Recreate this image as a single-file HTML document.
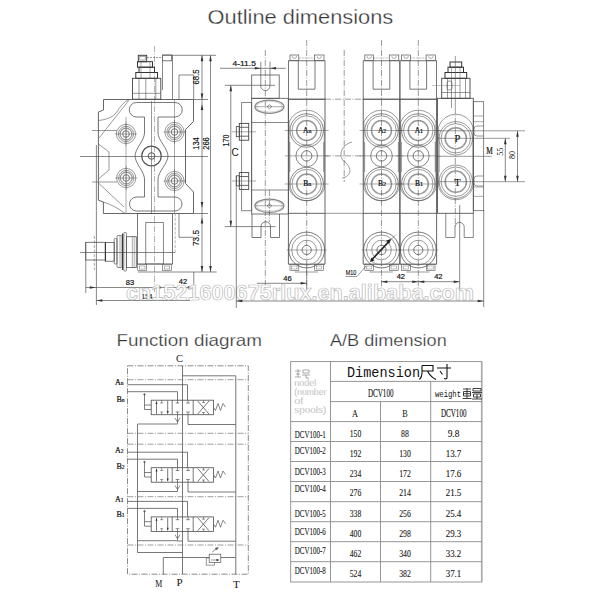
<!DOCTYPE html>
<html><head><meta charset="utf-8"><style>
html,body{margin:0;padding:0;background:#fff;width:600px;height:600px;overflow:hidden}
svg{display:block}
</style></head><body>
<svg width="600" height="600" viewBox="0 0 600 600">
<rect width="600" height="600" fill="#fff"/>
<text x="207.5" y="24.2" font-family="Liberation Sans" font-size="20.5" text-anchor="start" fill="#333" textLength="185.8" lengthAdjust="spacingAndGlyphs" stroke="#fff" stroke-width="0.3">Outline dimensions</text>
<text x="116.5" y="345.5" font-family="Liberation Sans" font-size="16.5" text-anchor="start" fill="#333" textLength="145.5" lengthAdjust="spacingAndGlyphs" stroke="#fff" stroke-width="0.25">Function diagram</text>
<text x="330" y="346" font-family="Liberation Sans" font-size="16.5" text-anchor="start" fill="#333" textLength="116.7" lengthAdjust="spacingAndGlyphs" stroke="#fff" stroke-width="0.25">A/B dimension</text>
<line x1="154.5" y1="46" x2="154.5" y2="292" stroke="#aaa" stroke-width="0.9" stroke-dasharray="6 1.5 1 1.5"/>
<line x1="80" y1="156.5" x2="208" y2="156.5" stroke="#555" stroke-width="0.7"/>
<line x1="80" y1="252.5" x2="175" y2="252.5" stroke="#555" stroke-width="0.7"/>
<rect x="138.3" y="55.3" width="8.4" height="6.4" stroke="#333" stroke-width="0.9" fill="none" rx="0"/>
<rect x="139.8" y="56.5" width="5.4" height="3.5" stroke="#555" stroke-width="0.5" fill="none" rx="0"/>
<rect x="137.5" y="61.7" width="15" height="5.5" stroke="#333" stroke-width="1.0" fill="none" rx="0"/>
<rect x="139" y="67.2" width="15.5" height="5.3" stroke="#333" stroke-width="1.0" fill="none" rx="0"/>
<rect x="135.8" y="72.5" width="21.7" height="5.8" stroke="#333" stroke-width="1.0" fill="none" rx="0"/>
<rect x="132.5" y="78.3" width="28.3" height="20.9" stroke="#444" stroke-width="0.9" fill="none" rx="0"/>
<line x1="141" y1="61.7" x2="141" y2="78.3" stroke="#555" stroke-width="0.5"/>
<line x1="150" y1="61.7" x2="150" y2="78.3" stroke="#555" stroke-width="0.5"/>
<line x1="139" y1="78.3" x2="139" y2="99.2" stroke="#555" stroke-width="0.6"/>
<line x1="145.8" y1="78.3" x2="145.8" y2="99.2" stroke="#555" stroke-width="0.6"/>
<line x1="155.8" y1="78.3" x2="155.8" y2="99.2" stroke="#555" stroke-width="0.6"/>
<line x1="132.5" y1="93.3" x2="160.8" y2="93.3" stroke="#555" stroke-width="0.6"/>
<line x1="147" y1="57.5" x2="163" y2="57.5" stroke="#555" stroke-width="0.6" stroke-dasharray="2 1"/>
<rect x="162.5" y="55" width="9.2" height="5.8" stroke="#555" stroke-width="0.8" fill="none" rx="0"/>
<line x1="162.5" y1="60.8" x2="162.5" y2="90" stroke="#555" stroke-width="0.7"/>
<line x1="172.5" y1="55" x2="172.5" y2="99.2" stroke="#555" stroke-width="0.7"/>
<path d="M103.5,99.5 L193.5,99.5 L193.5,121.5 L185.5,129.5 L185.5,183.5 L193.5,192 L193.5,213.5 L103.4,213.5 L103.4,202 L98.4,200.2 L98.4,112 L103.5,110 Z" stroke="#555" stroke-width="0.9" fill="none"/>
<line x1="193.5" y1="99.5" x2="208" y2="99.5" stroke="#555" stroke-width="0.7"/>
<line x1="193.5" y1="213.5" x2="208" y2="213.5" stroke="#555" stroke-width="0.7"/>
<path d="M129.5,99.5 L99,138" stroke="#555" stroke-width="0.6" fill="none"/>
<path d="M128,100 C120,104 118,113 112,116.5 C108,119 103,120 98.5,120.5" stroke="#555" stroke-width="0.6" fill="none"/>
<path d="M98.4,144 L109,152 L109,170 L98.4,179" stroke="#555" stroke-width="0.6" fill="none"/>
<path d="M98.4,183 L124,207" stroke="#555" stroke-width="0.6" fill="none"/>
<path d="M103.4,202 C112,205 118,208 125,213.5" stroke="#555" stroke-width="0.6" fill="none"/>
<path d="M136.5,102.5 L175,102.5 A7.2,7.2 0 0 1 175,117 L158,117 L158,133 C158,140 168,149 168,156 C168,163 158,172 158,179 L158,197 L175,197 A7,7 0 0 1 175,211 L136.5,211 A7,7 0 0 1 136.5,197 L144.5,197 L144.5,179 C144.5,172 135,163 135,156 C135,149 144.5,140 144.5,133 L144.5,117 L136.5,117 A7.2,7.2 0 0 1 136.5,102.5 Z" stroke="#555" stroke-width="0.8" fill="none"/>
<line x1="151.5" y1="101" x2="151.5" y2="213" stroke="#555" stroke-width="0.6"/>
<circle cx="126" cy="134" r="9.6" stroke="#555" stroke-width="0.6" fill="none"/>
<circle cx="126" cy="134" r="7.6" stroke="#555" stroke-width="0.6" fill="none"/>
<circle cx="126" cy="134" r="5.9" stroke="#999" stroke-width="1.2" fill="none"/>
<circle cx="126" cy="134" r="3.3" stroke="#555" stroke-width="0.8" fill="none"/>
<line x1="115" y1="134" x2="137" y2="134" stroke="#555" stroke-width="0.5"/>
<line x1="126" y1="122" x2="126" y2="146" stroke="#555" stroke-width="0.5"/>
<circle cx="174.5" cy="132" r="9.6" stroke="#555" stroke-width="0.6" fill="none"/>
<circle cx="174.5" cy="132" r="7.6" stroke="#555" stroke-width="0.6" fill="none"/>
<circle cx="174.5" cy="132" r="5.9" stroke="#999" stroke-width="1.2" fill="none"/>
<circle cx="174.5" cy="132" r="3.3" stroke="#555" stroke-width="0.8" fill="none"/>
<line x1="163.5" y1="132" x2="185.5" y2="132" stroke="#555" stroke-width="0.5"/>
<line x1="174.5" y1="120" x2="174.5" y2="144" stroke="#555" stroke-width="0.5"/>
<circle cx="126.2" cy="178" r="9.6" stroke="#555" stroke-width="0.6" fill="none"/>
<circle cx="126.2" cy="178" r="7.6" stroke="#555" stroke-width="0.6" fill="none"/>
<circle cx="126.2" cy="178" r="5.9" stroke="#999" stroke-width="1.2" fill="none"/>
<circle cx="126.2" cy="178" r="3.3" stroke="#555" stroke-width="0.8" fill="none"/>
<line x1="115.2" y1="178" x2="137.2" y2="178" stroke="#555" stroke-width="0.5"/>
<line x1="126.2" y1="166" x2="126.2" y2="190" stroke="#555" stroke-width="0.5"/>
<circle cx="174.5" cy="181" r="9.6" stroke="#555" stroke-width="0.6" fill="none"/>
<circle cx="174.5" cy="181" r="7.6" stroke="#555" stroke-width="0.6" fill="none"/>
<circle cx="174.5" cy="181" r="5.9" stroke="#999" stroke-width="1.2" fill="none"/>
<circle cx="174.5" cy="181" r="3.3" stroke="#555" stroke-width="0.8" fill="none"/>
<line x1="163.5" y1="181" x2="185.5" y2="181" stroke="#555" stroke-width="0.5"/>
<line x1="174.5" y1="169" x2="174.5" y2="193" stroke="#555" stroke-width="0.5"/>
<circle cx="151.5" cy="156" r="9.8" stroke="#555" stroke-width="1.3" fill="none"/>
<circle cx="151.5" cy="156" r="3.3" stroke="#555" stroke-width="1.0" fill="none"/>
<line x1="174.5" y1="99.5" x2="174.5" y2="213.5" stroke="#555" stroke-width="0.5"/>
<line x1="126" y1="117" x2="126" y2="213.5" stroke="#555" stroke-width="0.5"/>
<line x1="92" y1="130.5" x2="117" y2="130.5" stroke="#555" stroke-width="0.6"/>
<line x1="92" y1="182" x2="117" y2="182" stroke="#555" stroke-width="0.6"/>
<line x1="96.4" y1="145" x2="96.4" y2="305" stroke="#555" stroke-width="0.7"/>
<line x1="85.8" y1="242" x2="85.8" y2="293" stroke="#555" stroke-width="0.7"/>
<rect x="137.5" y="213.5" width="35" height="50.5" stroke="#555" stroke-width="0.8" fill="none" rx="0"/>
<rect x="145.8" y="222.5" width="17.5" height="41.5" stroke="#555" stroke-width="0.7" fill="none" rx="0"/>
<rect x="137.7" y="264.2" width="9" height="6.3" stroke="#555" stroke-width="0.6" fill="none" rx="0"/>
<rect x="162.5" y="264.2" width="9" height="6.3" stroke="#555" stroke-width="0.6" fill="none" rx="0"/>
<rect x="139.5" y="266" width="5.5" height="3" stroke="#555" stroke-width="0.4" fill="none" rx="0"/>
<rect x="164.3" y="266" width="5.5" height="3" stroke="#555" stroke-width="0.4" fill="none" rx="0"/>
<line x1="138" y1="272" x2="216.7" y2="272" stroke="#555" stroke-width="0.7"/>
<path d="M179,213.5 L179,237.3 L193.5,237.3" stroke="#555" stroke-width="0.7" fill="none"/>
<line x1="175.2" y1="213.5" x2="175.2" y2="253" stroke="#888" stroke-width="0.6" stroke-dasharray="3 1.5"/>
<rect x="85.7" y="242.3" width="19.7" height="17.7" stroke="#555" stroke-width="0.8" fill="none" rx="0"/>
<rect x="105.4" y="242.5" width="8.8" height="18.7" stroke="#555" stroke-width="0.8" fill="none" rx="0"/>
<line x1="105.4" y1="242.5" x2="105.4" y2="261.2" stroke="#333" stroke-width="1.2"/>
<rect x="114.2" y="238.5" width="2.8" height="25.5" stroke="#555" stroke-width="0.7" fill="none" rx="1"/>
<rect x="117" y="235.5" width="5" height="32" stroke="#555" stroke-width="0.7" fill="none" rx="1"/>
<line x1="122.6" y1="233.5" x2="122.6" y2="270" stroke="#333" stroke-width="1.1"/>
<line x1="120" y1="236" x2="120" y2="267" stroke="#555" stroke-width="0.5"/>
<rect x="123.8" y="232.5" width="2.6" height="38.5" stroke="#555" stroke-width="0.7" fill="none" rx="0.8"/>
<rect x="126.4" y="236.7" width="9.9" height="30.9" stroke="#555" stroke-width="0.8" fill="none" rx="0"/>
<line x1="132.3" y1="236.7" x2="132.3" y2="267.6" stroke="#555" stroke-width="0.5"/>
<line x1="134.2" y1="236.7" x2="134.2" y2="267.6" stroke="#555" stroke-width="0.5"/>
<line x1="94.3" y1="236" x2="94.3" y2="270" stroke="#555" stroke-width="0.5" stroke-dasharray="3 1.5"/>
<line x1="163" y1="55.3" x2="216" y2="55.3" stroke="#555" stroke-width="0.7"/>
<line x1="202" y1="55.3" x2="202" y2="272" stroke="#555" stroke-width="0.7"/>
<line x1="210.5" y1="55.3" x2="210.5" y2="272" stroke="#555" stroke-width="0.7"/>
<polygon points="202,55.3 200.7,61.3 203.3,61.3" fill="#333"/>
<polygon points="202,99.5 200.7,93.5 203.3,93.5" fill="#333"/>
<polygon points="202,104 200.7,110 203.3,110" fill="#333"/>
<polygon points="202,208 200.7,202 203.3,202" fill="#333"/>
<polygon points="202,217.5 200.7,223.5 203.3,223.5" fill="#333"/>
<polygon points="202,272 200.7,266 203.3,266" fill="#333"/>
<polygon points="210.5,55.3 209.2,61.3 211.8,61.3" fill="#333"/>
<polygon points="210.5,272 209.2,266 211.8,266" fill="#333"/>
<line x1="179" y1="75" x2="193.7" y2="75" stroke="#555" stroke-width="0.7"/>
<line x1="179" y1="75" x2="179" y2="99.5" stroke="#555" stroke-width="0.7"/>
<line x1="193.7" y1="75" x2="193.7" y2="99.5" stroke="#555" stroke-width="0.7"/>
<text transform="translate(199,77) rotate(-90)" font-family="Liberation Sans" font-size="8.5" text-anchor="middle" fill="#111" stroke="#111" stroke-width="0.15" textLength="15" lengthAdjust="spacingAndGlyphs">68.5</text>
<text transform="translate(199.3,143.5) rotate(-90)" font-family="Liberation Sans" font-size="8.5" text-anchor="middle" fill="#111" stroke="#111" stroke-width="0.15" textLength="12.5" lengthAdjust="spacingAndGlyphs">134</text>
<text transform="translate(208.6,143.5) rotate(-90)" font-family="Liberation Sans" font-size="8.5" text-anchor="middle" fill="#111" stroke="#111" stroke-width="0.15" textLength="12.5" lengthAdjust="spacingAndGlyphs">266</text>
<text transform="translate(199.3,238) rotate(-90)" font-family="Liberation Sans" font-size="8.5" text-anchor="middle" fill="#111" stroke="#111" stroke-width="0.15" textLength="16" lengthAdjust="spacingAndGlyphs">73.5</text>
<line x1="85.8" y1="287.5" x2="155" y2="287.5" stroke="#555" stroke-width="0.7"/>
<polygon points="95.8,287.5 89.8,286.2 89.8,288.8" fill="#333"/>
<polygon points="154.5,287.5 160.5,286.2 160.5,288.8" fill="#333"/>
<text x="130" y="285" font-family="Liberation Sans" font-size="7.5" text-anchor="middle" fill="#111" stroke="#111" stroke-width="0.2">83</text>
<line x1="154.5" y1="287.5" x2="193.8" y2="287.5" stroke="#555" stroke-width="0.7"/>
<polygon points="193.8,287.5 187.8,286.2 187.8,288.8" fill="#333"/>
<line x1="193.8" y1="272" x2="193.8" y2="300" stroke="#555" stroke-width="0.7"/>
<text x="183" y="284" font-family="Liberation Sans" font-size="7.5" text-anchor="middle" fill="#111" stroke="#111" stroke-width="0.2">42</text>
<line x1="96.4" y1="300.5" x2="190" y2="300.5" stroke="#555" stroke-width="0.7"/>
<polygon points="96.4,300.5 102.4,299.2 102.4,301.8" fill="#333"/>
<text x="147" y="298.5" font-family="Liberation Sans" font-size="6.5" text-anchor="middle" fill="#111" stroke="#111" stroke-width="0.15">154</text>
<line x1="220" y1="68.3" x2="285.8" y2="68.3" stroke="#555" stroke-width="0.7"/>
<polygon points="260.8,68.3 254.8,67.0 254.8,69.6" fill="#333"/>
<polygon points="270,68.3 276,67.0 276,69.6" fill="#333"/>
<text x="244.2" y="66.3" font-family="Liberation Sans" font-size="8" text-anchor="middle" fill="#111" textLength="23.3" lengthAdjust="spacingAndGlyphs" stroke="#111" stroke-width="0.2">4-11.5</text>
<line x1="225" y1="85.3" x2="275" y2="85.3" stroke="#555" stroke-width="0.7"/>
<line x1="230.8" y1="85.3" x2="230.8" y2="226.7" stroke="#555" stroke-width="0.7"/>
<polygon points="230.8,85.3 229.5,91.3 232.10000000000002,91.3" fill="#333"/>
<polygon points="230.8,226.7 229.5,220.7 232.10000000000002,220.7" fill="#333"/>
<text transform="translate(228.8,140.5) rotate(-90)" font-family="Liberation Sans" font-size="8.5" text-anchor="middle" fill="#111" stroke="#111" stroke-width="0.15" textLength="12" lengthAdjust="spacingAndGlyphs">170</text>
<text x="235" y="156" font-family="Liberation Sans" font-size="10" text-anchor="middle" fill="#111" >C</text>
<rect x="251.7" y="75" width="27.5" height="23.3" stroke="#555" stroke-width="0.8" fill="none" rx="0"/>
<path d="M260.8,61.7 L260.8,86 A4.6,4.6 0 0 0 270,86 L270,61.7" stroke="#555" stroke-width="0.7" fill="none"/>
<line x1="265.3" y1="50" x2="265.3" y2="290" stroke="#555" stroke-width="0.6" stroke-dasharray="6 1.5 1 1.5"/>
<rect x="251.7" y="98.3" width="36.6" height="115.7" stroke="#555" stroke-width="0.8" fill="none" rx="0"/>
<line x1="251.7" y1="122.5" x2="288.3" y2="122.5" stroke="#555" stroke-width="0.7"/>
<line x1="251.7" y1="190" x2="288.3" y2="190" stroke="#555" stroke-width="0.7"/>
<ellipse cx="269.4" cy="106.7" rx="14.5" ry="6.6" stroke="#888" stroke-width="1.3" fill="none"/>
<ellipse cx="269.4" cy="106.7" rx="13" ry="5.4" stroke="#aaa" stroke-width="0.5" fill="none"/>
<path d="M267,106.7 L269.4,104.7 L271.8,106.7 L269.4,108.7 Z" stroke="#555" stroke-width="0.6" fill="none"/>
<line x1="255" y1="106.7" x2="283" y2="106.7" stroke="#555" stroke-width="0.5"/>
<ellipse cx="269.4" cy="205.8" rx="14.5" ry="6.6" stroke="#888" stroke-width="1.3" fill="none"/>
<ellipse cx="269.4" cy="205.8" rx="13" ry="5.4" stroke="#aaa" stroke-width="0.5" fill="none"/>
<path d="M267,205.8 L269.4,203.8 L271.8,205.8 L269.4,207.8 Z" stroke="#555" stroke-width="0.6" fill="none"/>
<line x1="255" y1="205.8" x2="283" y2="205.8" stroke="#555" stroke-width="0.5"/>
<rect x="241.7" y="102.5" width="10" height="108.3" stroke="#555" stroke-width="0.7" fill="none" rx="0"/>
<rect x="239.3" y="123.4" width="9.4" height="16.8" stroke="#444" stroke-width="0.9" fill="none" rx="0"/>
<rect x="236.3" y="126.60000000000001" width="3" height="10.1" stroke="#444" stroke-width="0.8" fill="none" rx="0"/>
<line x1="239.3" y1="127.30000000000001" x2="248.7" y2="127.30000000000001" stroke="#444" stroke-width="0.8"/>
<line x1="239.3" y1="136.20000000000002" x2="248.7" y2="136.20000000000002" stroke="#444" stroke-width="0.8"/>
<line x1="232" y1="131.8" x2="256" y2="131.8" stroke="#555" stroke-width="0.5"/>
<rect x="239.3" y="172.6" width="9.4" height="16.8" stroke="#444" stroke-width="0.9" fill="none" rx="0"/>
<rect x="236.3" y="175.8" width="3" height="10.1" stroke="#444" stroke-width="0.8" fill="none" rx="0"/>
<line x1="239.3" y1="176.5" x2="248.7" y2="176.5" stroke="#444" stroke-width="0.8"/>
<line x1="239.3" y1="185.4" x2="248.7" y2="185.4" stroke="#444" stroke-width="0.8"/>
<line x1="232" y1="181" x2="256" y2="181" stroke="#555" stroke-width="0.5"/>
<path d="M252,214 L252,237.5 L261,237.5 L261,226.5 A4.75,4.75 0 0 1 270.5,226.5 L270.5,237.5 L279.5,237.5 L279.5,214" stroke="#555" stroke-width="0.8" fill="none"/>
<line x1="225" y1="226.6" x2="275.5" y2="226.6" stroke="#555" stroke-width="0.7"/>
<line x1="269.4" y1="190" x2="269.4" y2="222" stroke="#555" stroke-width="0.6" stroke-dasharray="6 1.5 1 1.5"/>
<rect x="288.4" y="60.8" width="36.6" height="38.4" stroke="#555" stroke-width="0.8" fill="none" rx="0"/>
<path d="M298.3,60.8 L298.3,89.2 L315.0,89.2 L315.0,60.8" stroke="#555" stroke-width="0.8" fill="none"/>
<rect x="290.0" y="55" width="8.8" height="5.5" stroke="#555" stroke-width="0.7" fill="none" rx="0"/>
<rect x="314.5" y="55" width="9.5" height="5.5" stroke="#555" stroke-width="0.7" fill="none" rx="0"/>
<path d="M292.2,56.2 A2.2,2.2 0 0 0 296.7,56.2" stroke="#555" stroke-width="0.5" fill="none"/>
<path d="M317.0,56.2 A2.2,2.2 0 0 0 321.5,56.2" stroke="#555" stroke-width="0.5" fill="none"/>
<line x1="298.7" y1="58" x2="314.5" y2="58" stroke="#555" stroke-width="0.4" stroke-dasharray="2 1"/>
<rect x="288.4" y="99.2" width="36.6" height="114.1" stroke="#555" stroke-width="0.9" fill="none" rx="0"/>
<line x1="289.59999999999997" y1="142" x2="289.59999999999997" y2="172" stroke="#aaa" stroke-width="1.5"/>
<line x1="323.79999999999995" y1="142" x2="323.79999999999995" y2="172" stroke="#aaa" stroke-width="1.5"/>
<path d="M289.09999999999997,122 A19,19 0 0 1 324.3,122 L324.3,189 A19,19 0 0 1 289.09999999999997,189 Z" stroke="#555" stroke-width="0.6" fill="none"/>
<circle cx="306.7" cy="130.5" r="16.7" stroke="#555" stroke-width="0.7" fill="none"/>
<circle cx="306.7" cy="130.5" r="14.7" stroke="#555" stroke-width="0.6" fill="none"/>
<circle cx="306.7" cy="130.5" r="10" stroke="#999" stroke-width="1.5" fill="none"/>
<text x="307.3" y="132.8" font-family="Liberation Serif" font-size="7.5" text-anchor="middle" fill="#000" stroke="#000" stroke-width="0.2">A<tspan font-size="6">n</tspan></text>
<line x1="284.7" y1="130.5" x2="328.7" y2="130.5" stroke="#555" stroke-width="0.5"/>
<circle cx="306.7" cy="184" r="16.7" stroke="#555" stroke-width="0.7" fill="none"/>
<circle cx="306.7" cy="184" r="14.7" stroke="#555" stroke-width="0.6" fill="none"/>
<circle cx="306.7" cy="184" r="10" stroke="#999" stroke-width="1.5" fill="none"/>
<text x="307.3" y="186.3" font-family="Liberation Serif" font-size="7.5" text-anchor="middle" fill="#000" stroke="#000" stroke-width="0.2">B<tspan font-size="6">n</tspan></text>
<line x1="284.7" y1="184" x2="328.7" y2="184" stroke="#555" stroke-width="0.5"/>
<circle cx="306.7" cy="155.9" r="10.8" stroke="#555" stroke-width="0.7" fill="none"/>
<circle cx="306.7" cy="155.9" r="5.2" stroke="#555" stroke-width="0.8" fill="none"/>
<line x1="284.7" y1="155.9" x2="328.7" y2="155.9" stroke="#555" stroke-width="0.5"/>
<line x1="306.7" y1="40" x2="306.7" y2="290" stroke="#555" stroke-width="0.6" stroke-dasharray="6 1.5 1 1.5"/>
<path d="M288.4,213.3 L288.4,264.2 L325.0,264.2 L325.0,213.3" stroke="#555" stroke-width="0.9" fill="none"/>
<circle cx="306.7" cy="250" r="17.9" stroke="#555" stroke-width="0.8" fill="none"/>
<circle cx="306.7" cy="250" r="15" stroke="#555" stroke-width="0.6" fill="none"/>
<circle cx="306.7" cy="250" r="9.8" stroke="#555" stroke-width="0.6" fill="none"/>
<circle cx="306.7" cy="250" r="4.6" stroke="#555" stroke-width="0.8" fill="none"/>
<line x1="286.7" y1="250" x2="326.7" y2="250" stroke="#555" stroke-width="0.5"/>
<rect x="290.0" y="264.2" width="8.8" height="6.2" stroke="#555" stroke-width="0.6" fill="none" rx="0"/>
<rect x="314.7" y="264.2" width="8.7" height="6.2" stroke="#555" stroke-width="0.6" fill="none" rx="0"/>
<rect x="291.5" y="266" width="5.5" height="3" stroke="#555" stroke-width="0.4" fill="none" rx="0"/>
<rect x="316.2" y="266" width="5.5" height="3" stroke="#555" stroke-width="0.4" fill="none" rx="0"/>
<line x1="294.7" y1="272" x2="318.0" y2="272" stroke="#555" stroke-width="0.6"/>
<rect x="363.2" y="60.8" width="36.6" height="38.4" stroke="#555" stroke-width="0.8" fill="none" rx="0"/>
<path d="M373.1,60.8 L373.1,89.2 L389.8,89.2 L389.8,60.8" stroke="#555" stroke-width="0.8" fill="none"/>
<rect x="364.8" y="55" width="8.8" height="5.5" stroke="#555" stroke-width="0.7" fill="none" rx="0"/>
<rect x="389.3" y="55" width="9.5" height="5.5" stroke="#555" stroke-width="0.7" fill="none" rx="0"/>
<path d="M367.0,56.2 A2.2,2.2 0 0 0 371.5,56.2" stroke="#555" stroke-width="0.5" fill="none"/>
<path d="M391.8,56.2 A2.2,2.2 0 0 0 396.3,56.2" stroke="#555" stroke-width="0.5" fill="none"/>
<line x1="373.5" y1="58" x2="389.3" y2="58" stroke="#555" stroke-width="0.4" stroke-dasharray="2 1"/>
<rect x="363.2" y="99.2" width="36.6" height="114.1" stroke="#555" stroke-width="0.9" fill="none" rx="0"/>
<line x1="364.4" y1="142" x2="364.4" y2="172" stroke="#aaa" stroke-width="1.5"/>
<line x1="398.59999999999997" y1="142" x2="398.59999999999997" y2="172" stroke="#aaa" stroke-width="1.5"/>
<path d="M363.9,122 A19,19 0 0 1 399.1,122 L399.1,189 A19,19 0 0 1 363.9,189 Z" stroke="#555" stroke-width="0.6" fill="none"/>
<circle cx="381.5" cy="130.5" r="16.7" stroke="#555" stroke-width="0.7" fill="none"/>
<circle cx="381.5" cy="130.5" r="14.7" stroke="#555" stroke-width="0.6" fill="none"/>
<circle cx="381.5" cy="130.5" r="10" stroke="#999" stroke-width="1.5" fill="none"/>
<text x="382.1" y="132.8" font-family="Liberation Serif" font-size="7.5" text-anchor="middle" fill="#000" stroke="#000" stroke-width="0.2">A<tspan font-size="6">2</tspan></text>
<line x1="359.5" y1="130.5" x2="403.5" y2="130.5" stroke="#555" stroke-width="0.5"/>
<circle cx="381.5" cy="184" r="16.7" stroke="#555" stroke-width="0.7" fill="none"/>
<circle cx="381.5" cy="184" r="14.7" stroke="#555" stroke-width="0.6" fill="none"/>
<circle cx="381.5" cy="184" r="10" stroke="#999" stroke-width="1.5" fill="none"/>
<text x="382.1" y="186.3" font-family="Liberation Serif" font-size="7.5" text-anchor="middle" fill="#000" stroke="#000" stroke-width="0.2">B<tspan font-size="6">2</tspan></text>
<line x1="359.5" y1="184" x2="403.5" y2="184" stroke="#555" stroke-width="0.5"/>
<circle cx="381.5" cy="155.9" r="10.8" stroke="#555" stroke-width="0.7" fill="none"/>
<circle cx="381.5" cy="155.9" r="5.2" stroke="#555" stroke-width="0.8" fill="none"/>
<line x1="359.5" y1="155.9" x2="403.5" y2="155.9" stroke="#555" stroke-width="0.5"/>
<line x1="381.5" y1="40" x2="381.5" y2="290" stroke="#555" stroke-width="0.6" stroke-dasharray="6 1.5 1 1.5"/>
<path d="M363.2,213.3 L363.2,264.2 L399.8,264.2 L399.8,213.3" stroke="#555" stroke-width="0.9" fill="none"/>
<circle cx="381.5" cy="250" r="17.9" stroke="#555" stroke-width="0.8" fill="none"/>
<circle cx="381.5" cy="250" r="15" stroke="#555" stroke-width="0.6" fill="none"/>
<circle cx="381.5" cy="250" r="9.8" stroke="#555" stroke-width="0.6" fill="none"/>
<circle cx="381.5" cy="250" r="4.6" stroke="#555" stroke-width="0.8" fill="none"/>
<line x1="361.5" y1="250" x2="401.5" y2="250" stroke="#555" stroke-width="0.5"/>
<rect x="364.8" y="264.2" width="8.8" height="6.2" stroke="#555" stroke-width="0.6" fill="none" rx="0"/>
<rect x="389.5" y="264.2" width="8.7" height="6.2" stroke="#555" stroke-width="0.6" fill="none" rx="0"/>
<rect x="366.3" y="266" width="5.5" height="3" stroke="#555" stroke-width="0.4" fill="none" rx="0"/>
<rect x="391.0" y="266" width="5.5" height="3" stroke="#555" stroke-width="0.4" fill="none" rx="0"/>
<line x1="369.5" y1="272" x2="392.8" y2="272" stroke="#555" stroke-width="0.6"/>
<rect x="400.0" y="60.8" width="36.6" height="38.4" stroke="#555" stroke-width="0.8" fill="none" rx="0"/>
<path d="M409.90000000000003,60.8 L409.90000000000003,89.2 L426.6,89.2 L426.6,60.8" stroke="#555" stroke-width="0.8" fill="none"/>
<rect x="401.6" y="55" width="8.8" height="5.5" stroke="#555" stroke-width="0.7" fill="none" rx="0"/>
<rect x="426.1" y="55" width="9.5" height="5.5" stroke="#555" stroke-width="0.7" fill="none" rx="0"/>
<path d="M403.8,56.2 A2.2,2.2 0 0 0 408.3,56.2" stroke="#555" stroke-width="0.5" fill="none"/>
<path d="M428.6,56.2 A2.2,2.2 0 0 0 433.1,56.2" stroke="#555" stroke-width="0.5" fill="none"/>
<line x1="410.3" y1="58" x2="426.1" y2="58" stroke="#555" stroke-width="0.4" stroke-dasharray="2 1"/>
<rect x="400.0" y="99.2" width="36.6" height="114.1" stroke="#555" stroke-width="0.9" fill="none" rx="0"/>
<line x1="401.2" y1="142" x2="401.2" y2="172" stroke="#aaa" stroke-width="1.5"/>
<line x1="435.4" y1="142" x2="435.4" y2="172" stroke="#aaa" stroke-width="1.5"/>
<path d="M400.7,122 A19,19 0 0 1 435.90000000000003,122 L435.90000000000003,189 A19,19 0 0 1 400.7,189 Z" stroke="#555" stroke-width="0.6" fill="none"/>
<circle cx="418.3" cy="130.5" r="16.7" stroke="#555" stroke-width="0.7" fill="none"/>
<circle cx="418.3" cy="130.5" r="14.7" stroke="#555" stroke-width="0.6" fill="none"/>
<circle cx="418.3" cy="130.5" r="10" stroke="#999" stroke-width="1.5" fill="none"/>
<text x="418.90000000000003" y="132.8" font-family="Liberation Serif" font-size="7.5" text-anchor="middle" fill="#000" stroke="#000" stroke-width="0.2">A<tspan font-size="6">1</tspan></text>
<line x1="396.3" y1="130.5" x2="440.3" y2="130.5" stroke="#555" stroke-width="0.5"/>
<circle cx="418.3" cy="184" r="16.7" stroke="#555" stroke-width="0.7" fill="none"/>
<circle cx="418.3" cy="184" r="14.7" stroke="#555" stroke-width="0.6" fill="none"/>
<circle cx="418.3" cy="184" r="10" stroke="#999" stroke-width="1.5" fill="none"/>
<text x="418.90000000000003" y="186.3" font-family="Liberation Serif" font-size="7.5" text-anchor="middle" fill="#000" stroke="#000" stroke-width="0.2">B<tspan font-size="6">1</tspan></text>
<line x1="396.3" y1="184" x2="440.3" y2="184" stroke="#555" stroke-width="0.5"/>
<circle cx="418.3" cy="155.9" r="10.8" stroke="#555" stroke-width="0.7" fill="none"/>
<circle cx="418.3" cy="155.9" r="5.2" stroke="#555" stroke-width="0.8" fill="none"/>
<line x1="396.3" y1="155.9" x2="440.3" y2="155.9" stroke="#555" stroke-width="0.5"/>
<line x1="418.3" y1="40" x2="418.3" y2="290" stroke="#555" stroke-width="0.6" stroke-dasharray="6 1.5 1 1.5"/>
<path d="M400.0,213.3 L400.0,264.2 L436.6,264.2 L436.6,213.3" stroke="#555" stroke-width="0.9" fill="none"/>
<circle cx="418.3" cy="250" r="17.9" stroke="#555" stroke-width="0.8" fill="none"/>
<circle cx="418.3" cy="250" r="15" stroke="#555" stroke-width="0.6" fill="none"/>
<circle cx="418.3" cy="250" r="9.8" stroke="#555" stroke-width="0.6" fill="none"/>
<circle cx="418.3" cy="250" r="4.6" stroke="#555" stroke-width="0.8" fill="none"/>
<line x1="398.3" y1="250" x2="438.3" y2="250" stroke="#555" stroke-width="0.5"/>
<rect x="401.6" y="264.2" width="8.8" height="6.2" stroke="#555" stroke-width="0.6" fill="none" rx="0"/>
<rect x="426.3" y="264.2" width="8.7" height="6.2" stroke="#555" stroke-width="0.6" fill="none" rx="0"/>
<rect x="403.1" y="266" width="5.5" height="3" stroke="#555" stroke-width="0.4" fill="none" rx="0"/>
<rect x="427.8" y="266" width="5.5" height="3" stroke="#555" stroke-width="0.4" fill="none" rx="0"/>
<line x1="406.3" y1="272" x2="429.6" y2="272" stroke="#555" stroke-width="0.6"/>
<line x1="325" y1="99.2" x2="363" y2="99.2" stroke="#555" stroke-width="0.6" stroke-dasharray="6 1.5 1 1.5"/>
<line x1="325" y1="155.9" x2="363" y2="155.9" stroke="#555" stroke-width="0.6" stroke-dasharray="6 1.5 1 1.5"/>
<line x1="325" y1="213.3" x2="363" y2="213.3" stroke="#555" stroke-width="0.6"/>
<line x1="344.2" y1="50" x2="344.2" y2="182" stroke="#555" stroke-width="0.6" stroke-dasharray="6 1.5 1 1.5"/>
<path d="M352,142 C340,145 338,158 345,162 C352,168 352,176 342,178" stroke="#555" stroke-width="0.6" fill="none"/>
<rect x="437.5" y="98.3" width="35.8" height="115" stroke="#555" stroke-width="0.9" fill="none" rx="0"/>
<path d="M438.6,126.9 A18,18 0 0 1 473,126.9 L473,187.1 A18,18 0 0 1 438.6,187.1 Z" stroke="#555" stroke-width="0.6" fill="none"/>
<line x1="439" y1="142" x2="439" y2="172" stroke="#aaa" stroke-width="1.5"/>
<rect x="441.7" y="78.3" width="28.3" height="20" stroke="#444" stroke-width="0.9" fill="none" rx="0"/>
<rect x="445" y="72.5" width="21.7" height="5.8" stroke="#333" stroke-width="1.0" fill="none" rx="0"/>
<rect x="448" y="67.2" width="15.5" height="5.3" stroke="#333" stroke-width="1.0" fill="none" rx="0"/>
<rect x="450" y="62" width="11.7" height="5.2" stroke="#333" stroke-width="1.0" fill="none" rx="0"/>
<line x1="451.5" y1="67.2" x2="451.5" y2="78.3" stroke="#555" stroke-width="0.5"/>
<line x1="460" y1="67.2" x2="460" y2="78.3" stroke="#555" stroke-width="0.5"/>
<line x1="455.3" y1="56" x2="455.3" y2="108" stroke="#555" stroke-width="0.6"/>
<line x1="455.3" y1="108" x2="455.3" y2="227" stroke="#555" stroke-width="0.6" stroke-dasharray="6 1.5 1 1.5"/>
<line x1="432" y1="85.5" x2="460" y2="85.5" stroke="#888" stroke-width="0.5"/>
<line x1="447.5" y1="78.3" x2="447.5" y2="98.3" stroke="#555" stroke-width="0.6"/>
<line x1="451.5" y1="78.3" x2="451.5" y2="108" stroke="#555" stroke-width="0.6"/>
<line x1="460" y1="78.3" x2="460" y2="98.3" stroke="#555" stroke-width="0.6"/>
<line x1="465.5" y1="78.3" x2="465.5" y2="98.3" stroke="#555" stroke-width="0.6"/>
<line x1="441.7" y1="92.5" x2="470" y2="92.5" stroke="#555" stroke-width="0.6"/>
<rect x="447" y="81" width="5" height="9" stroke="#555" stroke-width="0.6" fill="none" rx="2"/>
<rect x="473.3" y="101.7" width="10.4" height="109" stroke="#555" stroke-width="0.7" fill="none" rx="0"/>
<path d="M483.7,126 L477,126 Q474,126 474,129 L474,133 Q474,136 477,136 L483.7,136" stroke="#555" stroke-width="0.6" fill="none"/>
<path d="M483.7,176 L477,176 Q474,176 474,179 L474,183 Q474,186 477,186 L483.7,186" stroke="#555" stroke-width="0.6" fill="none"/>
<line x1="473.3" y1="116" x2="483.7" y2="116" stroke="#555" stroke-width="0.5"/>
<line x1="473.3" y1="121.7" x2="483.7" y2="121.7" stroke="#555" stroke-width="0.5"/>
<line x1="473.3" y1="187" x2="483.7" y2="187" stroke="#555" stroke-width="0.5"/>
<line x1="473.3" y1="196.3" x2="483.7" y2="196.3" stroke="#555" stroke-width="0.5"/>
<circle cx="455.8" cy="138.3" r="16.7" stroke="#555" stroke-width="0.6" fill="none"/>
<circle cx="455.8" cy="138.3" r="14.7" stroke="#555" stroke-width="0.6" fill="none"/>
<circle cx="455.8" cy="138.3" r="10.6" stroke="#999" stroke-width="1.5" fill="none"/>
<text x="457.5" y="142.10000000000002" font-family="Liberation Serif" font-size="10.5" text-anchor="middle" fill="#111" stroke="#111" stroke-width="0.15">P</text>
<circle cx="455.8" cy="181.7" r="16.7" stroke="#555" stroke-width="0.6" fill="none"/>
<circle cx="455.8" cy="181.7" r="14.7" stroke="#555" stroke-width="0.6" fill="none"/>
<circle cx="455.8" cy="181.7" r="10.6" stroke="#999" stroke-width="1.5" fill="none"/>
<text x="457.5" y="185.5" font-family="Liberation Serif" font-size="10.5" text-anchor="middle" fill="#111" stroke="#111" stroke-width="0.15">T</text>
<line x1="437" y1="130.8" x2="525" y2="130.8" stroke="#555" stroke-width="0.6"/>
<line x1="437" y1="138.3" x2="510" y2="138.3" stroke="#555" stroke-width="0.6"/>
<line x1="437" y1="156.3" x2="491.7" y2="156.3" stroke="#555" stroke-width="0.6"/>
<line x1="437" y1="181.7" x2="525" y2="181.7" stroke="#555" stroke-width="0.6"/>
<text x="489.5" y="153.6" font-family="Liberation Serif" font-size="9.5" text-anchor="middle" fill="#111" textLength="6.5" lengthAdjust="spacingAndGlyphs" stroke="#111" stroke-width="0.2">M</text>
<line x1="505.3" y1="138.3" x2="505.3" y2="181.7" stroke="#555" stroke-width="0.7"/>
<polygon points="505.3,138.3 504.0,144.3 506.6,144.3" fill="#333"/>
<polygon points="505.3,181.7 504.0,175.7 506.6,175.7" fill="#333"/>
<line x1="517.5" y1="130.8" x2="517.5" y2="181.7" stroke="#555" stroke-width="0.7"/>
<polygon points="517.5,130.8 516.2,136.8 518.8,136.8" fill="#333"/>
<polygon points="517.5,181.7 516.2,175.7 518.8,175.7" fill="#333"/>
<text transform="translate(502.5,151.7) rotate(-90)" font-family="Liberation Serif" font-size="8" text-anchor="middle" fill="#111">55</text>
<text transform="translate(515,155) rotate(-90)" font-family="Liberation Serif" font-size="8" text-anchor="middle" fill="#111">80</text>
<path d="M445.8,213.3 L445.8,237.5 L455,237.5 L455,227 A4.6,4.6 0 0 1 464.2,227 L464.2,237.5 L473.3,237.5 L473.3,213.3" stroke="#555" stroke-width="0.7" fill="none"/>
<line x1="459.7" y1="205" x2="459.7" y2="290" stroke="#555" stroke-width="0.7"/>
<line x1="483.7" y1="210" x2="483.7" y2="307" stroke="#555" stroke-width="0.7"/>
<line x1="257" y1="283.3" x2="306.7" y2="283.3" stroke="#555" stroke-width="0.7"/>
<polygon points="306.7,283.3 300.7,282.0 300.7,284.6" fill="#333"/>
<text x="287.5" y="281" font-family="Liberation Sans" font-size="7.5" text-anchor="middle" fill="#111" stroke="#111" stroke-width="0.2">46</text>
<line x1="306.7" y1="265" x2="306.7" y2="290" stroke="#555" stroke-width="0.6"/>
<line x1="381.3" y1="281.7" x2="459.7" y2="281.7" stroke="#555" stroke-width="0.7"/>
<polygon points="381.3,281.7 387.3,280.4 387.3,283.0" fill="#333"/>
<polygon points="418.3,281.7 412.3,280.4 412.3,283.0" fill="#333"/>
<polygon points="418.3,281.7 424.3,280.4 424.3,283.0" fill="#333"/>
<polygon points="459.7,281.7 453.7,280.4 453.7,283.0" fill="#333"/>
<text x="400.8" y="279" font-family="Liberation Sans" font-size="7.5" text-anchor="middle" fill="#111" stroke="#111" stroke-width="0.2">42</text>
<text x="438.3" y="279" font-family="Liberation Sans" font-size="7.5" text-anchor="middle" fill="#111" stroke="#111" stroke-width="0.2">42</text>
<text x="351" y="274.6" font-family="Liberation Sans" font-size="7.5" text-anchor="middle" fill="#111" textLength="10.5" lengthAdjust="spacingAndGlyphs" stroke="#111" stroke-width="0.15">M10</text>
<path d="M345.5,276.5 L357,276.5 L366,266" stroke="#555" stroke-width="0.6" fill="none"/>
<line x1="372" y1="259.5" x2="389" y2="241.5" stroke="#222" stroke-width="1.7"/>
<line x1="389" y1="241.5" x2="396" y2="234.5" stroke="#555" stroke-width="0.5"/>
<polygon points="370,262 371.5,257.5 374.5,260.5" fill="#222"/>
<polygon points="391,239 386,240.5 389.5,243.5" fill="#222"/>
<text x="126" y="300.3" font-family="Liberation Sans" font-weight="bold" font-size="22" fill="#fff" fill-opacity="0.92" stroke="#b8b8b8" stroke-width="0.7" textLength="348" lengthAdjust="spacingAndGlyphs">cn1521600675rlux.en.alibaba.com</text>
<line x1="236.3" y1="176" x2="236.3" y2="308" stroke="#555" stroke-width="0.7"/>
<line x1="236.3" y1="301" x2="483.7" y2="301" stroke="#555" stroke-width="0.7"/>
<polygon points="236.3,301 242.3,299.7 242.3,302.3" fill="#333"/>
<polygon points="483.7,301 477.7,299.7 477.7,302.3" fill="#333"/>
<text x="179.5" y="362" font-family="Liberation Serif" font-size="10.5" text-anchor="middle" fill="#222" >C</text>
<rect x="127.5" y="365.8" width="120.8" height="208.4" fill="none" stroke="#666" stroke-width="0.75" stroke-dasharray="6 1.5 1 1.5"/>
<line x1="182.5" y1="365.8" x2="182.5" y2="574.2" stroke="#555" stroke-width="0.8"/>
<line x1="127.5" y1="379.7" x2="248.3" y2="379.7" stroke="#777" stroke-width="0.7" stroke-dasharray="6 1.5 1 1.5"/>
<line x1="127.5" y1="433.3" x2="248.3" y2="433.3" stroke="#777" stroke-width="0.7" stroke-dasharray="6 1.5 1 1.5"/>
<line x1="127.5" y1="444.2" x2="248.3" y2="444.2" stroke="#777" stroke-width="0.7" stroke-dasharray="6 1.5 1 1.5"/>
<line x1="127.5" y1="496.7" x2="248.3" y2="496.7" stroke="#777" stroke-width="0.7" stroke-dasharray="6 1.5 1 1.5"/>
<line x1="127.5" y1="545" x2="248.3" y2="545" stroke="#777" stroke-width="0.7" stroke-dasharray="6 1.5 1 1.5"/>
<line x1="182.5" y1="375.8" x2="235.8" y2="375.8" stroke="#555" stroke-width="0.8"/>
<line x1="235.8" y1="375.8" x2="235.8" y2="574.2" stroke="#555" stroke-width="0.8"/>
<line x1="137.5" y1="424.2" x2="137.5" y2="552.5" stroke="#555" stroke-width="0.8"/>
<line x1="127.5" y1="384.7" x2="187.5" y2="384.7" stroke="#555" stroke-width="0.8"/>
<line x1="187.5" y1="384.7" x2="187.5" y2="400" stroke="#555" stroke-width="0.8"/>
<line x1="127.5" y1="391.7" x2="177.5" y2="391.7" stroke="#555" stroke-width="0.8"/>
<line x1="177.5" y1="391.7" x2="177.5" y2="400" stroke="#555" stroke-width="0.8"/>
<rect x="151.2" y="400.2" width="62.3" height="14.5" stroke="#555" stroke-width="0.85" fill="none" rx="0"/>
<line x1="172.2" y1="400" x2="172.2" y2="415" stroke="#555" stroke-width="0.8"/>
<line x1="193.2" y1="400" x2="193.2" y2="415" stroke="#555" stroke-width="0.8"/>
<line x1="156.5" y1="401.5" x2="156.5" y2="414" stroke="#555" stroke-width="0.8"/>
<polygon points="156.5,401 155.5,404 157.5,404" fill="#333"/>
<line x1="167.7" y1="401" x2="167.7" y2="413.5" stroke="#555" stroke-width="0.8"/>
<polygon points="167.7,414 166.7,411 168.7,411" fill="#333"/>
<line x1="160.2" y1="403" x2="163.2" y2="403" stroke="#555" stroke-width="0.6"/>
<line x1="161.7" y1="400" x2="161.7" y2="403" stroke="#555" stroke-width="0.6"/>
<line x1="160.2" y1="412" x2="163.2" y2="412" stroke="#555" stroke-width="0.6"/>
<line x1="161.7" y1="415" x2="161.7" y2="412" stroke="#555" stroke-width="0.6"/>
<line x1="175.7" y1="403" x2="179.3" y2="403" stroke="#555" stroke-width="0.7"/>
<line x1="177.5" y1="400" x2="177.5" y2="403" stroke="#555" stroke-width="0.7"/>
<line x1="175.7" y1="412" x2="179.3" y2="412" stroke="#555" stroke-width="0.7"/>
<line x1="177.5" y1="415" x2="177.5" y2="412" stroke="#555" stroke-width="0.7"/>
<line x1="186.2" y1="403" x2="189.8" y2="403" stroke="#555" stroke-width="0.7"/>
<line x1="188" y1="400" x2="188" y2="403" stroke="#555" stroke-width="0.7"/>
<line x1="186.2" y1="412" x2="189.8" y2="412" stroke="#555" stroke-width="0.7"/>
<line x1="188" y1="415" x2="188" y2="412" stroke="#555" stroke-width="0.7"/>
<line x1="197.7" y1="401" x2="209" y2="414" stroke="#555" stroke-width="0.8"/>
<line x1="209" y1="401" x2="197.7" y2="414" stroke="#555" stroke-width="0.8"/>
<line x1="202" y1="402.5" x2="205" y2="402.5" stroke="#555" stroke-width="0.6"/>
<line x1="203.5" y1="400" x2="203.5" y2="402.5" stroke="#555" stroke-width="0.6"/>
<line x1="202" y1="412.5" x2="205" y2="412.5" stroke="#555" stroke-width="0.6"/>
<line x1="203.5" y1="415" x2="203.5" y2="412.5" stroke="#555" stroke-width="0.6"/>
<path d="M213.5,407.5 L215.5,410.5 L218,403.5 L220.5,410.5 L223,403.5 L225.5,407" stroke="#555" stroke-width="0.7" fill="none"/>
<path d="M144.5,394.5 L144.5,409.5 L151.2,409.5 M144.5,405 L151.2,405" stroke="#555" stroke-width="0.75" fill="none"/>
<circle cx="144.5" cy="394.5" r="0.8" stroke="#555" stroke-width="0.6" fill="#555"/>
<line x1="177.5" y1="415" x2="177.5" y2="424" stroke="#555" stroke-width="0.7"/>
<path d="M175,418 L177.5,422 L180,418" stroke="#555" stroke-width="0.7" fill="none"/>
<line x1="137.5" y1="424" x2="177.5" y2="424" stroke="#555" stroke-width="0.8"/>
<path d="M188,415 L188,424.5 L235.8,424.5" stroke="#555" stroke-width="0.8" fill="none"/>
<text x="115" y="384.6" font-family="Liberation Serif" font-size="8" fill="#111" stroke="#111" stroke-width="0.2">A<tspan font-size="5.5">n</tspan></text>
<text x="116.5" y="401.7" font-family="Liberation Serif" font-size="8" fill="#111" stroke="#111" stroke-width="0.2">B<tspan font-size="5.5">n</tspan></text>
<line x1="127.5" y1="452.2" x2="187.5" y2="452.2" stroke="#555" stroke-width="0.8"/>
<line x1="187.5" y1="452.2" x2="187.5" y2="467.5" stroke="#555" stroke-width="0.8"/>
<line x1="127.5" y1="459.2" x2="177.5" y2="459.2" stroke="#555" stroke-width="0.8"/>
<line x1="177.5" y1="459.2" x2="177.5" y2="467.5" stroke="#555" stroke-width="0.8"/>
<rect x="151.2" y="467.7" width="62.3" height="14.5" stroke="#555" stroke-width="0.85" fill="none" rx="0"/>
<line x1="172.2" y1="467.5" x2="172.2" y2="482.5" stroke="#555" stroke-width="0.8"/>
<line x1="193.2" y1="467.5" x2="193.2" y2="482.5" stroke="#555" stroke-width="0.8"/>
<line x1="156.5" y1="469.0" x2="156.5" y2="481.5" stroke="#555" stroke-width="0.8"/>
<polygon points="156.5,468.5 155.5,471.5 157.5,471.5" fill="#333"/>
<line x1="167.7" y1="468.5" x2="167.7" y2="481.0" stroke="#555" stroke-width="0.8"/>
<polygon points="167.7,481.5 166.7,478.5 168.7,478.5" fill="#333"/>
<line x1="160.2" y1="470.5" x2="163.2" y2="470.5" stroke="#555" stroke-width="0.6"/>
<line x1="161.7" y1="467.5" x2="161.7" y2="470.5" stroke="#555" stroke-width="0.6"/>
<line x1="160.2" y1="479.5" x2="163.2" y2="479.5" stroke="#555" stroke-width="0.6"/>
<line x1="161.7" y1="482.5" x2="161.7" y2="479.5" stroke="#555" stroke-width="0.6"/>
<line x1="175.7" y1="470.5" x2="179.3" y2="470.5" stroke="#555" stroke-width="0.7"/>
<line x1="177.5" y1="467.5" x2="177.5" y2="470.5" stroke="#555" stroke-width="0.7"/>
<line x1="175.7" y1="479.5" x2="179.3" y2="479.5" stroke="#555" stroke-width="0.7"/>
<line x1="177.5" y1="482.5" x2="177.5" y2="479.5" stroke="#555" stroke-width="0.7"/>
<line x1="186.2" y1="470.5" x2="189.8" y2="470.5" stroke="#555" stroke-width="0.7"/>
<line x1="188" y1="467.5" x2="188" y2="470.5" stroke="#555" stroke-width="0.7"/>
<line x1="186.2" y1="479.5" x2="189.8" y2="479.5" stroke="#555" stroke-width="0.7"/>
<line x1="188" y1="482.5" x2="188" y2="479.5" stroke="#555" stroke-width="0.7"/>
<line x1="197.7" y1="468.5" x2="209" y2="481.5" stroke="#555" stroke-width="0.8"/>
<line x1="209" y1="468.5" x2="197.7" y2="481.5" stroke="#555" stroke-width="0.8"/>
<line x1="202" y1="470.0" x2="205" y2="470.0" stroke="#555" stroke-width="0.6"/>
<line x1="203.5" y1="467.5" x2="203.5" y2="470.0" stroke="#555" stroke-width="0.6"/>
<line x1="202" y1="480.0" x2="205" y2="480.0" stroke="#555" stroke-width="0.6"/>
<line x1="203.5" y1="482.5" x2="203.5" y2="480.0" stroke="#555" stroke-width="0.6"/>
<path d="M213.5,475.0 L215.5,478.0 L218,471.0 L220.5,478.0 L223,471.0 L225.5,474.5" stroke="#555" stroke-width="0.7" fill="none"/>
<path d="M144.5,462.0 L144.5,477.0 L151.2,477.0 M144.5,472.5 L151.2,472.5" stroke="#555" stroke-width="0.75" fill="none"/>
<circle cx="144.5" cy="462.0" r="0.8" stroke="#555" stroke-width="0.6" fill="#555"/>
<line x1="177.5" y1="482.5" x2="177.5" y2="491.5" stroke="#555" stroke-width="0.7"/>
<path d="M175,485.5 L177.5,489.5 L180,485.5" stroke="#555" stroke-width="0.7" fill="none"/>
<line x1="137.5" y1="491.5" x2="177.5" y2="491.5" stroke="#555" stroke-width="0.8"/>
<path d="M188,482.5 L188,492.0 L235.8,492.0" stroke="#555" stroke-width="0.8" fill="none"/>
<text x="115" y="452.7" font-family="Liberation Serif" font-size="8" fill="#111" stroke="#111" stroke-width="0.2">A<tspan font-size="5.5">2</tspan></text>
<text x="116.5" y="469.3" font-family="Liberation Serif" font-size="8" fill="#111" stroke="#111" stroke-width="0.2">B<tspan font-size="5.5">2</tspan></text>
<line x1="127.5" y1="501.40000000000003" x2="187.5" y2="501.40000000000003" stroke="#555" stroke-width="0.8"/>
<line x1="187.5" y1="501.40000000000003" x2="187.5" y2="516.7" stroke="#555" stroke-width="0.8"/>
<line x1="127.5" y1="508.40000000000003" x2="177.5" y2="508.40000000000003" stroke="#555" stroke-width="0.8"/>
<line x1="177.5" y1="508.40000000000003" x2="177.5" y2="516.7" stroke="#555" stroke-width="0.8"/>
<rect x="151.2" y="516.9000000000001" width="62.3" height="14.5" stroke="#555" stroke-width="0.85" fill="none" rx="0"/>
<line x1="172.2" y1="516.7" x2="172.2" y2="531.7" stroke="#555" stroke-width="0.8"/>
<line x1="193.2" y1="516.7" x2="193.2" y2="531.7" stroke="#555" stroke-width="0.8"/>
<line x1="156.5" y1="518.2" x2="156.5" y2="530.7" stroke="#555" stroke-width="0.8"/>
<polygon points="156.5,517.7 155.5,520.7 157.5,520.7" fill="#333"/>
<line x1="167.7" y1="517.7" x2="167.7" y2="530.2" stroke="#555" stroke-width="0.8"/>
<polygon points="167.7,530.7 166.7,527.7 168.7,527.7" fill="#333"/>
<line x1="160.2" y1="519.7" x2="163.2" y2="519.7" stroke="#555" stroke-width="0.6"/>
<line x1="161.7" y1="516.7" x2="161.7" y2="519.7" stroke="#555" stroke-width="0.6"/>
<line x1="160.2" y1="528.7" x2="163.2" y2="528.7" stroke="#555" stroke-width="0.6"/>
<line x1="161.7" y1="531.7" x2="161.7" y2="528.7" stroke="#555" stroke-width="0.6"/>
<line x1="175.7" y1="519.7" x2="179.3" y2="519.7" stroke="#555" stroke-width="0.7"/>
<line x1="177.5" y1="516.7" x2="177.5" y2="519.7" stroke="#555" stroke-width="0.7"/>
<line x1="175.7" y1="528.7" x2="179.3" y2="528.7" stroke="#555" stroke-width="0.7"/>
<line x1="177.5" y1="531.7" x2="177.5" y2="528.7" stroke="#555" stroke-width="0.7"/>
<line x1="186.2" y1="519.7" x2="189.8" y2="519.7" stroke="#555" stroke-width="0.7"/>
<line x1="188" y1="516.7" x2="188" y2="519.7" stroke="#555" stroke-width="0.7"/>
<line x1="186.2" y1="528.7" x2="189.8" y2="528.7" stroke="#555" stroke-width="0.7"/>
<line x1="188" y1="531.7" x2="188" y2="528.7" stroke="#555" stroke-width="0.7"/>
<line x1="197.7" y1="517.7" x2="209" y2="530.7" stroke="#555" stroke-width="0.8"/>
<line x1="209" y1="517.7" x2="197.7" y2="530.7" stroke="#555" stroke-width="0.8"/>
<line x1="202" y1="519.2" x2="205" y2="519.2" stroke="#555" stroke-width="0.6"/>
<line x1="203.5" y1="516.7" x2="203.5" y2="519.2" stroke="#555" stroke-width="0.6"/>
<line x1="202" y1="529.2" x2="205" y2="529.2" stroke="#555" stroke-width="0.6"/>
<line x1="203.5" y1="531.7" x2="203.5" y2="529.2" stroke="#555" stroke-width="0.6"/>
<path d="M213.5,524.2 L215.5,527.2 L218,520.2 L220.5,527.2 L223,520.2 L225.5,523.7" stroke="#555" stroke-width="0.7" fill="none"/>
<path d="M144.5,511.20000000000005 L144.5,526.2 L151.2,526.2 M144.5,521.7 L151.2,521.7" stroke="#555" stroke-width="0.75" fill="none"/>
<circle cx="144.5" cy="511.20000000000005" r="0.8" stroke="#555" stroke-width="0.6" fill="#555"/>
<line x1="177.5" y1="531.7" x2="177.5" y2="540.7" stroke="#555" stroke-width="0.7"/>
<path d="M175,534.7 L177.5,538.7 L180,534.7" stroke="#555" stroke-width="0.7" fill="none"/>
<line x1="137.5" y1="540.7" x2="177.5" y2="540.7" stroke="#555" stroke-width="0.8"/>
<path d="M188,531.7 L188,541.2 L235.8,541.2" stroke="#555" stroke-width="0.8" fill="none"/>
<text x="115" y="502.2" font-family="Liberation Serif" font-size="8" fill="#111" stroke="#111" stroke-width="0.2">A<tspan font-size="5.5">1</tspan></text>
<text x="116.5" y="517.3" font-family="Liberation Serif" font-size="8" fill="#111" stroke="#111" stroke-width="0.2">B<tspan font-size="5.5">1</tspan></text>
<line x1="137.5" y1="552.5" x2="182.5" y2="552.5" stroke="#555" stroke-width="0.8"/>
<line x1="177.5" y1="541" x2="182.5" y2="541" stroke="#555" stroke-width="0.8"/>
<line x1="163.3" y1="557.5" x2="209.2" y2="557.5" stroke="#555" stroke-width="0.8"/>
<line x1="163.3" y1="557.5" x2="163.3" y2="574.2" stroke="#555" stroke-width="0.8"/>
<line x1="220.8" y1="557.5" x2="235.8" y2="557.5" stroke="#555" stroke-width="0.8"/>
<rect x="209.2" y="554.2" width="11.6" height="8.3" stroke="#555" stroke-width="0.7" fill="none" rx="0"/>
<line x1="211" y1="560" x2="218" y2="560" stroke="#555" stroke-width="0.6"/>
<polygon points="219.5,560 216.5,558.7 216.5,561.3" fill="#333"/>
<path d="M212.3,552 L217,548.3" stroke="#777" stroke-width="0.9" fill="none"/>
<polygon points="218.8,547 214.8,548 216.8,550.2" fill="#555"/>
<path d="M209.2,558 L206.3,558 L206.3,565.2 L214.5,565.2 L214.5,562.5" stroke="#555" stroke-width="0.6" fill="none"/>
<text x="158.8" y="587" font-family="Liberation Serif" font-size="11" text-anchor="middle" fill="#111" textLength="7" lengthAdjust="spacingAndGlyphs" >M</text>
<text x="179.5" y="586" font-family="Liberation Serif" font-size="11" text-anchor="middle" fill="#111" >P</text>
<text x="236.3" y="587.8" font-family="Liberation Serif" font-size="11" text-anchor="middle" fill="#111" >T</text>
<rect x="290.7" y="361.6" width="191" height="220.4" stroke="#8a8a8a" stroke-width="0.9" fill="none" rx="0"/>
<line x1="481.7" y1="361.6" x2="481.7" y2="582" stroke="#aaa" stroke-width="1.6"/>
<line x1="330.5" y1="361.6" x2="330.5" y2="582" stroke="#8a8a8a" stroke-width="0.9"/>
<line x1="330.5" y1="381.4" x2="481.7" y2="381.4" stroke="#8a8a8a" stroke-width="0.9"/>
<line x1="330.5" y1="401.6" x2="481.7" y2="401.6" stroke="#8a8a8a" stroke-width="0.9"/>
<line x1="430.7" y1="381.4" x2="430.7" y2="582" stroke="#8a8a8a" stroke-width="0.9"/>
<line x1="380.5" y1="401.6" x2="380.5" y2="582" stroke="#8a8a8a" stroke-width="0.9"/>
<line x1="290.7" y1="421.6" x2="481.7" y2="421.6" stroke="#8a8a8a" stroke-width="0.9"/>
<line x1="290.7" y1="441.5" x2="481.7" y2="441.5" stroke="#8a8a8a" stroke-width="0.9"/>
<line x1="290.7" y1="461.5" x2="481.7" y2="461.5" stroke="#8a8a8a" stroke-width="0.9"/>
<line x1="290.7" y1="481.5" x2="481.7" y2="481.5" stroke="#8a8a8a" stroke-width="0.9"/>
<line x1="290.7" y1="501.7" x2="481.7" y2="501.7" stroke="#8a8a8a" stroke-width="0.9"/>
<line x1="290.7" y1="521.7" x2="481.7" y2="521.7" stroke="#8a8a8a" stroke-width="0.9"/>
<line x1="290.7" y1="541.7" x2="481.7" y2="541.7" stroke="#8a8a8a" stroke-width="0.9"/>
<line x1="290.7" y1="561.7" x2="481.7" y2="561.7" stroke="#8a8a8a" stroke-width="0.9"/>
<text x="347" y="377.3" font-family="Liberation Mono" font-size="15.5" text-anchor="start" fill="#111" textLength="73" lengthAdjust="spacingAndGlyphs" >Dimension</text>
<path d="M422,365.5 L433,365.5 L433,371 L422,371 M422,365.5 L422,373 Q422,377 419.5,379.5 M427.5,371 Q430,376.5 436,379.5" stroke="#111" stroke-width="1.1" fill="none"/>
<path d="M437,368 L451,368 M447,364 L447,377.5 Q447,379.5 444,378.5 M440,371 L442.5,374.5" stroke="#111" stroke-width="1.1" fill="none"/>
<text x="380.7" y="397" font-family="Liberation Serif" font-size="11.5" text-anchor="middle" fill="#111" textLength="25.6" lengthAdjust="spacingAndGlyphs" stroke="#111" stroke-width="0.15">DCV100</text>
<text x="435" y="397" font-family="Liberation Mono" font-size="8.5" text-anchor="start" fill="#111" textLength="26" lengthAdjust="spacingAndGlyphs" >weight</text>
<path d="M463,389 L471,389 M467,388 L467,399 M463.5,391.5 L470.5,391.5 L470.5,396 L463.5,396 Z M463.5,393.7 L470.5,393.7 M462.5,398.5 L471.5,398.5" stroke="#222" stroke-width="0.85" fill="none"/>
<path d="M473,388.5 L481,388.5 L481,391 L473,391 Z M472,392.5 L482,392.5 M473.5,394 L480.5,394 L480.5,397 L473.5,397 Z M477,394 L477,399 M472,399 L482,399" stroke="#222" stroke-width="0.85" fill="none"/>
<text x="355" y="417.3" font-family="Liberation Serif" font-size="11" text-anchor="middle" fill="#111" textLength="6" lengthAdjust="spacingAndGlyphs" >A</text>
<text x="405" y="417.3" font-family="Liberation Serif" font-size="11" text-anchor="middle" fill="#111" textLength="5.5" lengthAdjust="spacingAndGlyphs" >B</text>
<text x="453.7" y="416.8" font-family="Liberation Serif" font-size="11.5" text-anchor="middle" fill="#111" textLength="25.6" lengthAdjust="spacingAndGlyphs" stroke="#111" stroke-width="0.15">DCV100</text>
<text x="310.3" y="437.8" font-family="Liberation Serif" font-size="11" text-anchor="middle" fill="#111" textLength="31" lengthAdjust="spacingAndGlyphs" stroke="#111" stroke-width="0.1">DCV100-1</text>
<text x="355.5" y="436.6" font-family="Liberation Serif" font-size="11" text-anchor="middle" fill="#111" textLength="11.5" lengthAdjust="spacingAndGlyphs" stroke="#111" stroke-width="0.1">150</text>
<text x="405" y="436.6" font-family="Liberation Serif" font-size="11" text-anchor="middle" fill="#111" textLength="7.8" lengthAdjust="spacingAndGlyphs" stroke="#111" stroke-width="0.1">88</text>
<text x="453.5" y="436.6" font-family="Liberation Serif" font-size="11" text-anchor="middle" fill="#111" textLength="11.7" lengthAdjust="spacingAndGlyphs" stroke="#111" stroke-width="0.1">9.8</text>
<text x="310.3" y="453.6" font-family="Liberation Serif" font-size="11" text-anchor="middle" fill="#111" textLength="31" lengthAdjust="spacingAndGlyphs" stroke="#111" stroke-width="0.1">DCV100-2</text>
<text x="355.5" y="456.90000000000003" font-family="Liberation Serif" font-size="11" text-anchor="middle" fill="#111" textLength="11.5" lengthAdjust="spacingAndGlyphs" stroke="#111" stroke-width="0.1">192</text>
<text x="405" y="456.90000000000003" font-family="Liberation Serif" font-size="11" text-anchor="middle" fill="#111" textLength="11.7" lengthAdjust="spacingAndGlyphs" stroke="#111" stroke-width="0.1">130</text>
<text x="453.5" y="456.90000000000003" font-family="Liberation Serif" font-size="11" text-anchor="middle" fill="#111" textLength="15.6" lengthAdjust="spacingAndGlyphs" stroke="#111" stroke-width="0.1">13.7</text>
<text x="310.3" y="475.3" font-family="Liberation Serif" font-size="11" text-anchor="middle" fill="#111" textLength="31" lengthAdjust="spacingAndGlyphs" stroke="#111" stroke-width="0.1">DCV100-3</text>
<text x="355.5" y="476.90000000000003" font-family="Liberation Serif" font-size="11" text-anchor="middle" fill="#111" textLength="11.5" lengthAdjust="spacingAndGlyphs" stroke="#111" stroke-width="0.1">234</text>
<text x="405" y="476.90000000000003" font-family="Liberation Serif" font-size="11" text-anchor="middle" fill="#111" textLength="11.7" lengthAdjust="spacingAndGlyphs" stroke="#111" stroke-width="0.1">172</text>
<text x="453.5" y="476.90000000000003" font-family="Liberation Serif" font-size="11" text-anchor="middle" fill="#111" textLength="15.6" lengthAdjust="spacingAndGlyphs" stroke="#111" stroke-width="0.1">17.6</text>
<text x="310.3" y="491.90000000000003" font-family="Liberation Serif" font-size="11" text-anchor="middle" fill="#111" textLength="31" lengthAdjust="spacingAndGlyphs" stroke="#111" stroke-width="0.1">DCV100-4</text>
<text x="355.5" y="496.40000000000003" font-family="Liberation Serif" font-size="11" text-anchor="middle" fill="#111" textLength="11.5" lengthAdjust="spacingAndGlyphs" stroke="#111" stroke-width="0.1">276</text>
<text x="405" y="496.40000000000003" font-family="Liberation Serif" font-size="11" text-anchor="middle" fill="#111" textLength="11.7" lengthAdjust="spacingAndGlyphs" stroke="#111" stroke-width="0.1">214</text>
<text x="453.5" y="496.40000000000003" font-family="Liberation Serif" font-size="11" text-anchor="middle" fill="#111" textLength="15.6" lengthAdjust="spacingAndGlyphs" stroke="#111" stroke-width="0.1">21.5</text>
<text x="310.3" y="516.9" font-family="Liberation Serif" font-size="11" text-anchor="middle" fill="#111" textLength="31" lengthAdjust="spacingAndGlyphs" stroke="#111" stroke-width="0.1">DCV100-5</text>
<text x="355.5" y="516.8000000000001" font-family="Liberation Serif" font-size="11" text-anchor="middle" fill="#111" textLength="11.5" lengthAdjust="spacingAndGlyphs" stroke="#111" stroke-width="0.1">338</text>
<text x="405" y="516.8000000000001" font-family="Liberation Serif" font-size="11" text-anchor="middle" fill="#111" textLength="11.7" lengthAdjust="spacingAndGlyphs" stroke="#111" stroke-width="0.1">256</text>
<text x="453.5" y="516.8000000000001" font-family="Liberation Serif" font-size="11" text-anchor="middle" fill="#111" textLength="15.6" lengthAdjust="spacingAndGlyphs" stroke="#111" stroke-width="0.1">25.4</text>
<text x="310.3" y="535.3000000000001" font-family="Liberation Serif" font-size="11" text-anchor="middle" fill="#111" textLength="31" lengthAdjust="spacingAndGlyphs" stroke="#111" stroke-width="0.1">DCV100-6</text>
<text x="355.5" y="536.9" font-family="Liberation Serif" font-size="11" text-anchor="middle" fill="#111" textLength="11.5" lengthAdjust="spacingAndGlyphs" stroke="#111" stroke-width="0.1">400</text>
<text x="405" y="536.9" font-family="Liberation Serif" font-size="11" text-anchor="middle" fill="#111" textLength="11.7" lengthAdjust="spacingAndGlyphs" stroke="#111" stroke-width="0.1">298</text>
<text x="453.5" y="536.9" font-family="Liberation Serif" font-size="11" text-anchor="middle" fill="#111" textLength="15.6" lengthAdjust="spacingAndGlyphs" stroke="#111" stroke-width="0.1">29.3</text>
<text x="310.3" y="554.4" font-family="Liberation Serif" font-size="11" text-anchor="middle" fill="#111" textLength="31" lengthAdjust="spacingAndGlyphs" stroke="#111" stroke-width="0.1">DCV100-7</text>
<text x="355.5" y="556.9" font-family="Liberation Serif" font-size="11" text-anchor="middle" fill="#111" textLength="11.5" lengthAdjust="spacingAndGlyphs" stroke="#111" stroke-width="0.1">462</text>
<text x="405" y="556.9" font-family="Liberation Serif" font-size="11" text-anchor="middle" fill="#111" textLength="11.7" lengthAdjust="spacingAndGlyphs" stroke="#111" stroke-width="0.1">340</text>
<text x="453.5" y="556.9" font-family="Liberation Serif" font-size="11" text-anchor="middle" fill="#111" textLength="15.6" lengthAdjust="spacingAndGlyphs" stroke="#111" stroke-width="0.1">33.2</text>
<text x="310.3" y="574.4" font-family="Liberation Serif" font-size="11" text-anchor="middle" fill="#111" textLength="31" lengthAdjust="spacingAndGlyphs" stroke="#111" stroke-width="0.1">DCV100-8</text>
<text x="355.5" y="576.9" font-family="Liberation Serif" font-size="11" text-anchor="middle" fill="#111" textLength="11.5" lengthAdjust="spacingAndGlyphs" stroke="#111" stroke-width="0.1">524</text>
<text x="405" y="576.9" font-family="Liberation Serif" font-size="11" text-anchor="middle" fill="#111" textLength="11.7" lengthAdjust="spacingAndGlyphs" stroke="#111" stroke-width="0.1">382</text>
<text x="453.5" y="576.9" font-family="Liberation Serif" font-size="11" text-anchor="middle" fill="#111" textLength="15.6" lengthAdjust="spacingAndGlyphs" stroke="#111" stroke-width="0.1">37.1</text>
<path d="M295,371 L301,371 M298,369 L298,377 M295,377 L301,377 M296,374 L300,374 M303,370 L309,370 L309,373 L303,373 Z M302,375 L310,375 M306,375 L306,378 L309,378" stroke="#888" stroke-width="0.7" fill="none"/>
<text x="294.3" y="386" font-family="Liberation Sans" font-size="9" text-anchor="start" fill="#999" textLength="22" lengthAdjust="spacingAndGlyphs" stroke="#fff" stroke-width="0.25">nodel</text>
<text x="294.3" y="395" font-family="Liberation Sans" font-size="9" text-anchor="start" fill="#999" textLength="32" lengthAdjust="spacingAndGlyphs" stroke="#fff" stroke-width="0.25">(number</text>
<text x="294.3" y="403.5" font-family="Liberation Sans" font-size="9" text-anchor="start" fill="#999" textLength="9" lengthAdjust="spacingAndGlyphs" stroke="#fff" stroke-width="0.25">of</text>
<text x="294.3" y="412.5" font-family="Liberation Sans" font-size="9" text-anchor="start" fill="#999" textLength="32" lengthAdjust="spacingAndGlyphs" stroke="#fff" stroke-width="0.25">spools)</text>
</svg></body></html>
